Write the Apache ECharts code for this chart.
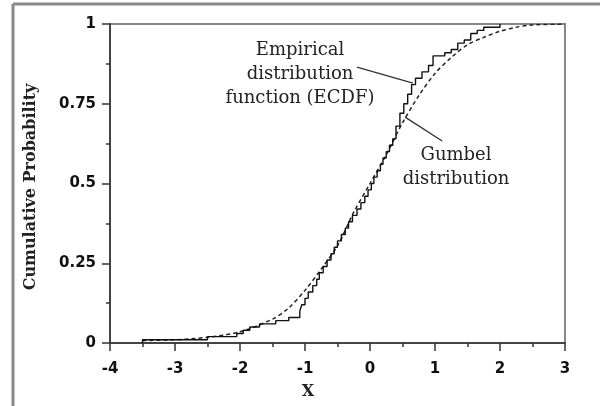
<!DOCTYPE html>
<html>
<head>
<meta charset="utf-8">
<script src="https://cdn.jsdelivr.net/npm/echarts@6/dist/echarts.min.js"></script>
<style>
html,body{margin:0;padding:0;background:#fff;}
#c{width:600px;height:406px;}
</style>
</head>
<body>
<div id="c"></div>
<script>
// ECDF jump positions and cumulative probabilities
const ecdfX = [-3.5, -2.5, -2.05, -1.95, -1.85, -1.7, -1.45, -1.25, -1.08, -1.05, -1.0, -0.95, -0.88, -0.82, -0.78, -0.72, -0.66, -0.6, -0.55, -0.5, -0.44, -0.38, -0.33, -0.27, -0.2, -0.14, -0.08, -0.03, 0.02, 0.06, 0.11, 0.16, 0.2, 0.25, 0.3, 0.35, 0.4, 0.46, 0.52, 0.58, 0.64, 0.7, 0.8, 0.9, 0.97, 1.15, 1.25, 1.35, 1.45, 1.55, 1.65, 1.75, 2.0];
const ecdfY = [0.01, 0.02, 0.03, 0.04, 0.05, 0.06, 0.07, 0.08, 0.10, 0.12, 0.14, 0.16, 0.18, 0.20, 0.22, 0.24, 0.26, 0.28, 0.30, 0.32, 0.34, 0.36, 0.38, 0.40, 0.42, 0.44, 0.46, 0.48, 0.50, 0.52, 0.54, 0.56, 0.58, 0.60, 0.62, 0.64, 0.68, 0.72, 0.75, 0.78, 0.81, 0.83, 0.85, 0.87, 0.90, 0.91, 0.92, 0.94, 0.95, 0.97, 0.98, 0.99, 1.0];
// Gumbel curve points
const gumbelX = [-3.5, -3.0, -2.5, -2.0, -1.5, -1.25, -1.0, -0.75, -0.5, -0.25, 0.0, 0.25, 0.5, 0.75, 1.0, 1.25, 1.5, 1.75, 2.0, 2.25, 2.5, 3.0];
const gumbelY = [0.008, 0.01, 0.018, 0.035, 0.075, 0.11, 0.165, 0.232, 0.305, 0.41, 0.50, 0.59, 0.69, 0.775, 0.845, 0.895, 0.935, 0.958, 0.977, 0.99, 0.997, 1.0];
const xTicks = [-4, -3, -2, -1, 0, 1, 2, 3];
const yTicks = [0, 0.25, 0.5, 0.75, 1];

const chart = echarts.init(document.getElementById('c'), null, {renderer: 'canvas'});

const ecdfData = [[ecdfX[0], 0]].concat(ecdfX.map((x, i) => [x, ecdfY[i]]));
const gumbelData = gumbelX.map((x, i) => [x, gumbelY[i]]);

const axisCommon = {
  axisLine: {show: true, onZero: false, lineStyle: {color: '#444', width: 2}},
  axisTick: {show: true, length: 8, lineStyle: {color: '#333', width: 1.5}},
  minorTick: {show: true, splitNumber: 2, length: 4, lineStyle: {color: '#333', width: 1.5}},
  splitLine: {show: false},
  minorSplitLine: {show: false},
  axisLabel: {color: '#111', fontFamily: 'DejaVu Sans, sans-serif', fontWeight: 'bold', fontSize: 15}
};

chart.setOption({
  animation: false,
  backgroundColor: '#fff',
  grid: {left: 110, right: 35, top: 24, bottom: 63, show: true, borderColor: '#888', borderWidth: 2},
  xAxis: Object.assign({}, axisCommon, {
    type: 'value', min: xTicks[0], max: xTicks[xTicks.length - 1], interval: 1,
    axisLabel: Object.assign({}, axisCommon.axisLabel, {margin: 19})
  }),
  yAxis: Object.assign({}, axisCommon, {
    type: 'value', min: yTicks[0], max: yTicks[yTicks.length - 1], interval: 0.25,
    axisLabel: Object.assign({}, axisCommon.axisLabel, {margin: 14})
  }),
  series: [
    {type: 'line', data: gumbelData, smooth: 0.3, showSymbol: false,
     lineStyle: {color: '#222', width: 1.5, type: [4, 3]}},
    {type: 'line', data: ecdfData, step: 'end', showSymbol: false,
     lineStyle: {color: '#111', width: 1.4}}
  ]
});

function px(x, y) { return chart.convertToPixel({gridIndex: 0}, [x, y]); }
const p1 = px(-0.2, 0.865), p2 = px(0.66, 0.815);
const g1 = px(0.54, 0.708), g2 = px(1.11, 0.633);
const serif = 'DejaVu Serif, serif';
chart.setOption({
  graphic: [
    {type: 'line', shape: {x1: 13, y1: 4, x2: 13, y2: 406}, style: {stroke: '#888', lineWidth: 3}},
    {type: 'line', shape: {x1: 13, y1: 4, x2: 600, y2: 4}, style: {stroke: '#888', lineWidth: 3}},
    {type: 'line', shape: {x1: p1[0], y1: p1[1], x2: p2[0], y2: p2[1]}, style: {stroke: '#333', lineWidth: 1.3}},
    {type: 'line', shape: {x1: g1[0], y1: g1[1], x2: g2[0], y2: g2[1]}, style: {stroke: '#333', lineWidth: 1.3}},
    {type: 'text', x: 300, y: 74, style: {text: 'Empirical\ndistribution\nfunction (ECDF)', font: '18px ' + serif, fill: '#222', align: 'center', verticalAlign: 'middle', lineHeight: 24}},
    {type: 'text', x: 456, y: 167, style: {text: 'Gumbel\ndistribution', font: '18px ' + serif, fill: '#222', align: 'center', verticalAlign: 'middle', lineHeight: 24}},
    {type: 'text', x: 308, y: 392, style: {text: 'X', font: 'bold 16px ' + serif, fill: '#222', align: 'center', verticalAlign: 'middle'}},
    {type: 'text', x: 31, y: 187, rotation: Math.PI / 2, style: {text: 'Cumulative Probability', font: 'bold 16px ' + serif, fill: '#222', align: 'center', verticalAlign: 'middle'}}
  ]
});
</script>
</body>
</html>
